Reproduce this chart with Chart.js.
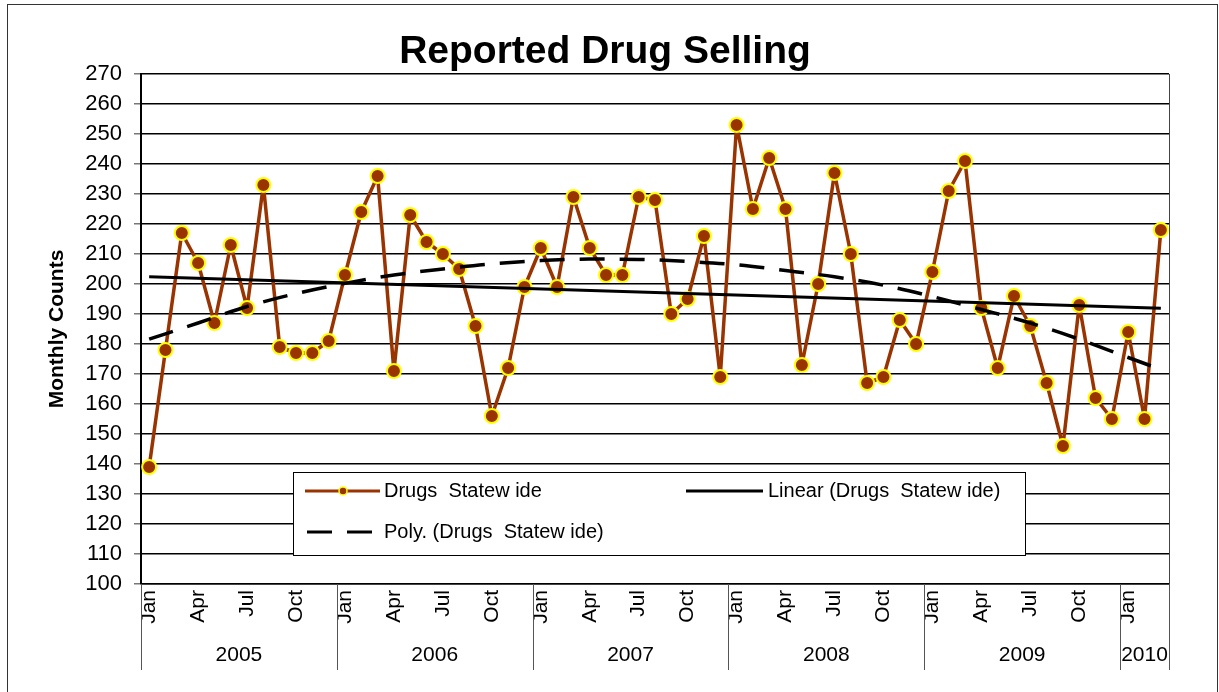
<!DOCTYPE html>
<html>
<head>
<meta charset="utf-8">
<title>Reported Drug Selling</title>
<script src="https://cdn.jsdelivr.net/npm/chart.js@4.4.1/dist/chart.umd.min.js"></script>
<style>
  html, body { margin: 0; padding: 0; background: #fff; }
  #wrap { width: 1219px; height: 692px; }
</style>
</head>
<body>
<div id="wrap"><canvas id="myChart" width="1219" height="692"></canvas></div>
<script>
// Months Jan 2005 - Mar 2010
const monthNames = ['Jan','Feb','Mar','Apr','May','Jun','Jul','Aug','Sep','Oct','Nov','Dec'];
const years = ['2005', '2006', '2007', '2008', '2009', '2010'];
const monthsPerYear = [12, 12, 12, 12, 12, 3];
const shownMonths = ['Jan', 'Apr', 'Jul', 'Oct'];
const yTicks = [100, 110, 120, 130, 140, 150, 160, 170, 180, 190, 200, 210, 220, 230, 240, 250, 260, 270];

const drugsStatewide = [
  139, 178, 217, 207, 187, 213, 192, 233, 179, 177, 177, 181,
  203, 224, 236, 171, 223, 214, 210, 205, 186, 156, 172, 199,
  212, 199, 229, 212, 203, 203, 229, 228, 190, 195, 216, 169,
  253, 225, 242, 225, 173, 200, 237, 210, 167, 169, 188, 180,
  204, 231, 241, 192, 172, 196, 186, 167, 146, 193, 162, 155,
  184, 155, 218
];

// trendline values (null = not read at that month)
const linearTrend = [202.4].concat(new Array(61).fill(null), [191.9]);
const polyTrend = [
  181.6, null, null, 187.0, null, null, 192.5, null, null, 196.8, null, null,
  200.2, null, null, 203.0, null, null, 205.0, null, null, 206.7, null, null,
  207.8, null, null, 208.3, null, null, 208.2, null, null, 207.5, null, null,
  206.4, null, null, 204.5, null, null, 202.4, null, null, 199.6, null, null,
  195.8, null, null, 191.5, null, null, 187.0, null, null, 181.6, null, null,
  175.5, null, 171.5
];

const labels = [];
years.forEach((y, i) => {
  for (let m = 0; m < monthsPerYear[i]; m++) labels.push(monthNames[m] + ' ' + y);
});

const FONT = "'Liberation Sans', Arial, sans-serif";
const BROWN = '#993300';

// Draws the month / year category labels, frame and the legend box
const decorPlugin = {
  id: 'decor',
  beforeDraw(chart) {
    const { ctx } = chart;
    ctx.save();
    ctx.fillStyle = '#fff';
    ctx.fillRect(0, 0, chart.width, chart.height);
    ctx.restore();
  },
  afterDraw(chart) {
    const { ctx, chartArea } = chart;
    const x = chart.scales.x;
    ctx.save();

    // outer frame
    ctx.strokeStyle = '#333';
    ctx.lineWidth = 1;
    ctx.strokeRect(7.5, 4.5, 1210, 700);

    // plot frame right + bottom
    ctx.strokeStyle = '#444';
    ctx.beginPath();
    ctx.moveTo(chartArea.right + 0.5, chartArea.top);
    ctx.lineTo(chartArea.right + 0.5, chartArea.bottom);
    ctx.moveTo(chartArea.left, chartArea.bottom + 0.5);
    ctx.lineTo(chartArea.right, chartArea.bottom + 0.5);
    ctx.stroke();

    // month labels
    ctx.fillStyle = '#000';
    ctx.font = '21px ' + FONT;
    ctx.textAlign = 'right';
    ctx.textBaseline = 'middle';
    labels.forEach((lab, i) => {
      const m = lab.split(' ')[0];
      if (!shownMonths.includes(m)) return;
      const px = x.getPixelForValue(i);
      ctx.save();
      ctx.translate(px, chartArea.bottom + 6);
      ctx.rotate(-Math.PI / 2);
      ctx.fillText(m, 0, 0);
      ctx.restore();
    });

    // year groups
    let start = 0;
    ctx.strokeStyle = '#555';
    ctx.textAlign = 'center';
    years.forEach((y, i) => {
      const end = start + monthsPerYear[i];
      const x0 = start === 0 ? chartArea.left : (x.getPixelForValue(start - 1) + x.getPixelForValue(start)) / 2;
      const x1 = end >= labels.length ? chartArea.right : (x.getPixelForValue(end - 1) + x.getPixelForValue(end)) / 2;
      ctx.beginPath();
      ctx.moveTo(Math.round(x0) + 0.5, chartArea.bottom);
      ctx.lineTo(Math.round(x0) + 0.5, 670);
      ctx.moveTo(Math.round(x1) + 0.5, chartArea.bottom);
      ctx.lineTo(Math.round(x1) + 0.5, 670);
      ctx.stroke();
      ctx.fillText(y, (x0 + x1) / 2, 655);
      start = end;
    });

    // legend box
    const lx = 293, ly = 472, lw = 732, lh = 83;
    ctx.fillStyle = '#fff';
    ctx.fillRect(lx, ly, lw, lh);
    ctx.strokeStyle = '#000';
    ctx.lineWidth = 1;
    ctx.strokeRect(lx + 0.5, ly + 0.5, lw, lh);

    ctx.font = '20px ' + FONT;
    ctx.textAlign = 'left';
    ctx.textBaseline = 'middle';
    ctx.fillStyle = '#000';

    const r1 = 491, r2 = 532;
    // series
    ctx.strokeStyle = BROWN;
    ctx.lineWidth = 3;
    ctx.beginPath();
    ctx.moveTo(305, r1); ctx.lineTo(380, r1);
    ctx.stroke();
    ctx.beginPath();
    ctx.arc(343, r1, 4, 0, Math.PI * 2);
    ctx.fillStyle = BROWN;
    ctx.fill();
    ctx.strokeStyle = '#FFFF00';
    ctx.lineWidth = 1.5;
    ctx.stroke();
    ctx.fillStyle = '#000';
    ctx.fillText(chart.data.datasets[2].label, 384, r1);

    // linear
    ctx.strokeStyle = '#000';
    ctx.lineWidth = 3;
    ctx.beginPath();
    ctx.moveTo(686, r1); ctx.lineTo(763, r1);
    ctx.stroke();
    ctx.fillText(chart.data.datasets[0].label, 768, r1);

    // poly
    ctx.setLineDash([25, 15]);
    ctx.beginPath();
    ctx.moveTo(307, r2); ctx.lineTo(372, r2);
    ctx.stroke();
    ctx.setLineDash([]);
    ctx.fillText(chart.data.datasets[1].label, 384, r2);

    ctx.restore();
  }
};

const config = {
  type: 'line',
  data: {
    labels: labels,
    datasets: [
      {
        label: 'Linear (Drugs  Statew ide)',
        data: linearTrend,
        borderColor: '#000',
        borderWidth: 3,
        pointRadius: 0,
        spanGaps: true,
        order: 0
      },
      {
        label: 'Poly. (Drugs  Statew ide)',
        data: polyTrend,
        borderColor: '#000',
        borderWidth: 3.5,
        borderDash: [25, 15],
        pointRadius: 0,
        spanGaps: true,
        cubicInterpolationMode: 'monotone',
        order: 1
      },
      {
        label: 'Drugs  Statew ide',
        data: drugsStatewide,
        borderColor: BROWN,
        borderWidth: 3.5,
        borderJoinStyle: 'round',
        pointRadius: 7,
        pointBorderWidth: 2,
        pointBackgroundColor: BROWN,
        pointBorderColor: '#FFFF00',
        tension: 0,
        order: 2
      }
    ]
  },
  options: {
    responsive: false,
    animation: false,
    devicePixelRatio: 1,
    layout: { padding: { left: 41, right: 50, top: 4, bottom: 0 } },
    plugins: {
      legend: { display: false },
      tooltip: { enabled: false },
      title: {
        display: true,
        text: 'Reported Drug Selling',
        color: '#000',
        font: { family: FONT, size: 39, weight: 'bold' },
        padding: { top: 25, bottom: -1.8 }
      }
    },
    scales: {
      x: {
        type: 'category',
        offset: true,
        grid: { display: false },
        border: { display: false },
        ticks: { display: false },
        afterFit(s) { s.height = 108; }
      },
      y: {
        min: 100,
        max: 270,
        afterBuildTicks(s) { s.ticks = yTicks.map(v => ({ value: v })); },
        grid: { color: '#000', lineWidth: 1.5, tickLength: 7, tickColor: '#777' },
        border: { display: true, color: '#000', width: 2 },
        ticks: { color: '#000', padding: 12, font: { family: FONT, size: 22 } },
        title: {
          display: true,
          text: 'Monthly Counts',
          color: '#000',
          font: { family: FONT, size: 21, weight: 'bold' }
        },
        afterFit(s) { s.width = 100; }
      }
    }
  },
  plugins: [decorPlugin]
};

new Chart(document.getElementById('myChart'), config);
</script>
</body>
</html>
